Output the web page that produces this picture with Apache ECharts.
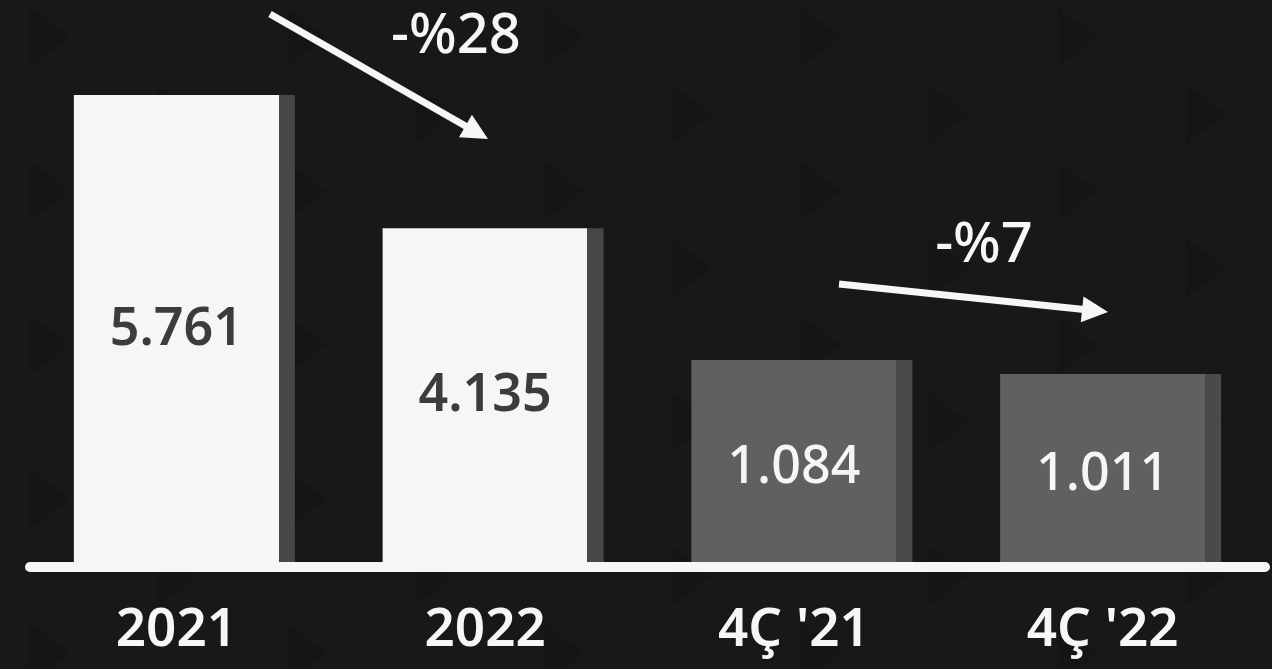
<!DOCTYPE html>
<html>
<head>
<meta charset="utf-8">
<script src="https://cdn.jsdelivr.net/npm/echarts@6/dist/echarts.min.js"></script>
<style>
html,body{margin:0;padding:0;background:#181818;}
#chart{width:1272px;height:669px;}
</style>
</head>
<body>
<div id="chart"></div>
<script>
const categories = ['2021', '2022', "4Ç '21", "4Ç '22"];
const annualValues = [5.761, 4.135, '-', '-'];
const quarterValues = ['-', '-', 1.084, 1.011];
const annualLabels = ['5.761', '4.135'];
const quarterLabels = ['1.084', '1.011'];
const changeLabels = ['-%28', '-%7'];

const FONT = '"Noto Sans", "Open Sans", sans-serif';
const chart = echarts.init(document.getElementById('chart'), null, {renderer: 'canvas'});

function stripGradient(main, side) {
  return new echarts.graphic.LinearGradient(0, 0, 1, 0, [
    {offset: 0, color: main},
    {offset: 0.927, color: main},
    {offset: 0.927, color: side},
    {offset: 1, color: side}
  ]);
}

// faint background triangle texture (decoration)
const bg = [];
for (let r = 0; r < 10; r++) {
  const y = 37 + r * 77;
  const off = (r % 2) ? 128 : 0;
  for (let c = -1; c < 6; c++) {
    const x = 30 + off + c * 257;
    bg.push({
      type: 'polygon', silent: true, z: -10,
      shape: {points: [[x, y - 30], [x + 40, y], [x, y + 30]]},
      style: {fill: 'rgba(0,0,0,0.11)'}
    });
  }
}

function arrow(x1, y1, x2, y2) {
  const ang = Math.atan2(y2 - y1, x2 - x1);
  const L = 26, W = 13;
  const bx = x2 - L * Math.cos(ang), by = y2 - L * Math.sin(ang);
  const px = -Math.sin(ang) * W, py = Math.cos(ang) * W;
  return [
    {type: 'line', z: 20, shape: {x1: x1, y1: y1, x2: bx + 2 * Math.cos(ang), y2: by + 2 * Math.sin(ang)},
     style: {stroke: '#f6f6f6', lineWidth: 7}},
    {type: 'polygon', z: 20, shape: {points: [[x2, y2], [bx + px, by + py], [bx - px, by - py]]},
     style: {fill: '#f6f6f6'}}
  ];
}

const option = {
  backgroundColor: '#181818',
  animation: false,
  grid: {left: 30, right: 7, top: 0, bottom: 102, containLabel: false},
  xAxis: {
    type: 'category',
    data: categories,
    z: 10,
    axisLine: {lineStyle: {color: '#f6f6f6', width: 10, cap: 'round'}},
    axisTick: {show: false},
    axisLabel: {color: '#f6f6f6', fontSize: 53, fontWeight: 600, fontFamily: FONT, margin: 37,
                padding: [0, 16, 0, 0]}
  },
  yAxis: [
    {type: 'value', min: 0, max: 6.92, show: false, splitLine: {show: false}},
    {type: 'value', min: 0, max: 2.969, show: false, splitLine: {show: false}}
  ],
  series: [
    {
      type: 'bar', yAxisIndex: 0, data: annualValues, barWidth: 221, barGap: '-100%',
      itemStyle: {color: stripGradient('#f6f6f6', '#474747')},
      label: {show: true, position: 'inside', offset: [-8, -1], color: '#3c3c3c', fontSize: 52,
              fontWeight: 600, fontFamily: FONT,
              formatter: p => annualLabels[p.dataIndex]}
    },
    {
      type: 'bar', yAxisIndex: 1, data: quarterValues, barWidth: 221, barGap: '-100%',
      itemStyle: {color: stripGradient('#606060', '#4a4a4a')},
      label: {show: true, position: 'inside', offset: [-8, 5], color: '#f6f6f6', fontSize: 52,
              fontWeight: 500, fontFamily: FONT,
              formatter: p => quarterLabels[p.dataIndex - 2]}
    }
  ],
  graphic: bg.concat(
    arrow(270, 14, 488, 139),
    arrow(839, 284, 1108, 312),
    [
      {type: 'text', z: 20, x: 456, y: 37, style: {text: changeLabels[0], fill: '#f6f6f6', fontSize: 56,
        fontWeight: 500, fontFamily: FONT, align: 'center', verticalAlign: 'middle'}},
      {type: 'text', z: 20, x: 984, y: 246, style: {text: changeLabels[1], fill: '#f6f6f6', fontSize: 56,
        fontWeight: 500, fontFamily: FONT, align: 'center', verticalAlign: 'middle'}}
    ]
  )
};
chart.setOption(option);
</script>
</body>
</html>
